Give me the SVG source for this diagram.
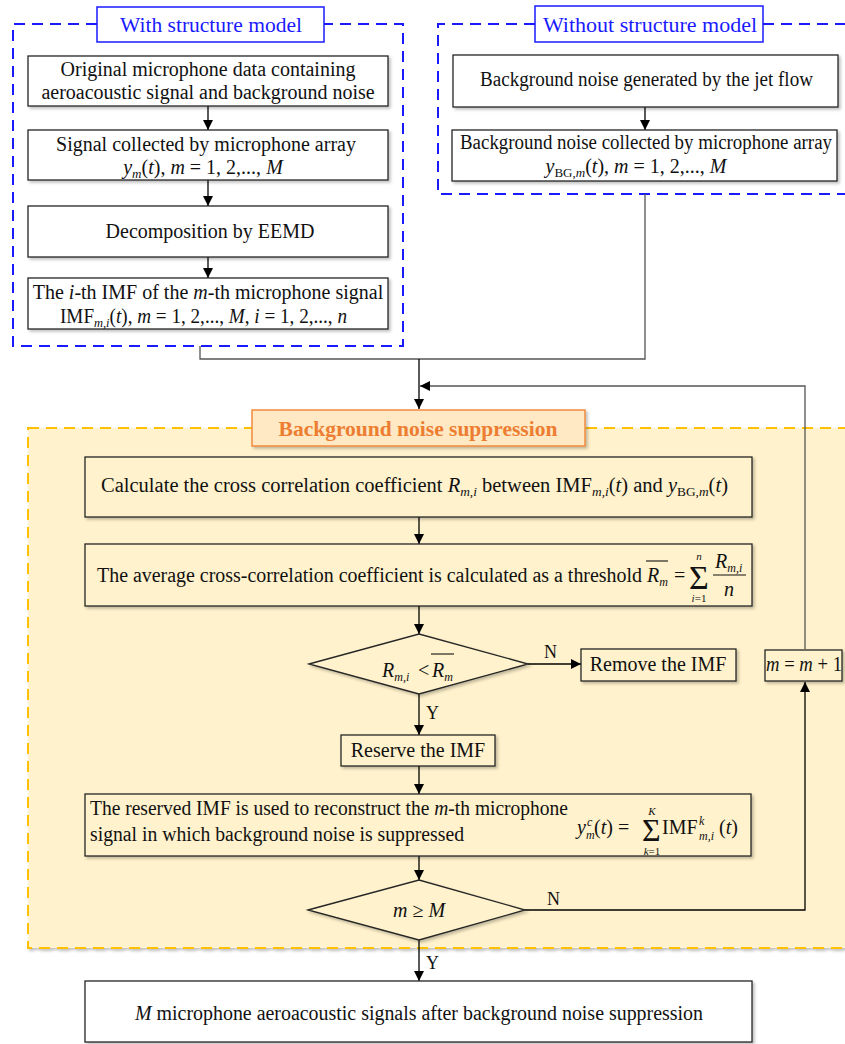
<svg xmlns="http://www.w3.org/2000/svg" width="845" height="1044" viewBox="0 0 845 1044">
<defs>
<filter id="sh" x="-5%" y="-10%" width="115%" height="130%">
<feDropShadow dx="2" dy="2" stdDeviation="1.5" flood-color="#000" flood-opacity="0.25"/>
</filter>
<marker id="ah" viewBox="0 0 10 10" refX="10" refY="5" markerWidth="10" markerHeight="10" markerUnits="userSpaceOnUse" orient="auto">
<path d="M0,0 L10,5 L0,10 z" fill="#000"/>
</marker>
<style>
.box{fill:#fff;stroke:#262626;stroke-width:1.3;filter:url(#sh)}
.ybox{fill:#fff2cc;stroke:#262626;stroke-width:1.3;filter:url(#sh)}
.t{font-family:"Liberation Serif","Times New Roman",serif;font-size:20px;fill:#111}
.m{text-anchor:middle}
.i{font-style:italic}
.conn{stroke:#000;stroke-width:1.3;fill:none}
.gconn{stroke:#555;stroke-width:1.3;fill:none}
.blue{stroke:#1a1aff;stroke-width:2;stroke-dasharray:11,7;fill:none}
</style>
</defs>

<g id="group-with">
<path class="blue" d="M97,24 H13 V346 H403 V24 H324"/>
<rect x="97" y="7" width="227" height="35" fill="#fff" stroke="#1a1aff" stroke-width="1.5"/>
<text class="t m" x="211" y="32" style="fill:#1a1aff;font-size:21.5px">With structure model</text>
</g>

<g id="group-without">
<path class="blue" d="M535,24 H438 V194 H860 M763,24 H860"/>
<rect x="535" y="6" width="228" height="36" fill="#fff" stroke="#1a1aff" stroke-width="1.5"/>
<text class="t m" x="650" y="32" style="fill:#1a1aff;font-size:22px">Without structure model</text>
</g>

<g id="group-suppression">
<rect x="28" y="428" width="840" height="520" fill="#fff2cc" stroke="#ffc000" stroke-width="2" stroke-dasharray="11,7" filter="url(#sh)"/>
<rect x="252" y="410" width="333" height="36" fill="#fee9c4" stroke="#f08a3c" stroke-width="1.5" filter="url(#sh)"/>
<text class="t m" x="418" y="436" style="fill:#ed7d31;font-weight:bold;font-size:21.5px">Background noise suppression</text>
</g>

<g id="connectors">
<line class="conn" x1="208" y1="106" x2="208" y2="130" marker-end="url(#ah)"/>
<line class="conn" x1="208" y1="180" x2="208" y2="206" marker-end="url(#ah)"/>
<line class="conn" x1="208" y1="257" x2="208" y2="278" marker-end="url(#ah)"/>
<line class="conn" x1="645" y1="107" x2="645" y2="130" marker-end="url(#ah)"/>
<path class="gconn" d="M200,346 V359 H645 V194"/>
<line class="conn" x1="419" y1="359" x2="419" y2="409" marker-end="url(#ah)"/>
<path class="gconn" d="M805,649 V386 H420"/>
<path d="M420,386 L430,381 L430,391 z" fill="#000"/>
<line class="conn" x1="419" y1="517" x2="419" y2="544" marker-end="url(#ah)"/>
<line class="conn" x1="419" y1="606" x2="419" y2="634" marker-end="url(#ah)"/>
<line class="conn" x1="528" y1="664" x2="581" y2="664" marker-end="url(#ah)"/>
<line class="conn" x1="419" y1="694" x2="419" y2="735" marker-end="url(#ah)"/>
<line class="conn" x1="419" y1="766" x2="419" y2="794" marker-end="url(#ah)"/>
<line class="conn" x1="419" y1="856" x2="419" y2="880" marker-end="url(#ah)"/>
<path class="conn" d="M525,910 H805 V682" marker-end="url(#ah)"/>
<line class="conn" x1="419" y1="940" x2="419" y2="981" marker-end="url(#ah)"/>
<text class="t" x="544" y="658" style="font-size:18px">N</text>
<text class="t" x="547" y="905" style="font-size:18px">N</text>
<text class="t" x="426" y="719" style="font-size:18px">Y</text>
<text class="t" x="426" y="969" style="font-size:18px">Y</text>
</g>

<g id="node-original">
<rect class="box" x="28" y="56" width="360" height="50"/>
<text class="t m" x="208" y="76">Original microphone data containing</text>
<text class="t m" x="208" y="99">aeroacoustic signal and background noise</text>
</g>

<g id="node-signal">
<rect class="box" x="28" y="130" width="360" height="50"/>
<text class="t m" x="206" y="151">Signal collected by microphone array</text>
<text class="t m" x="203" y="174"><tspan class="i">y</tspan><tspan class="i" font-size="13" dy="4">m</tspan><tspan dy="-4">(</tspan><tspan class="i">t</tspan>),  <tspan class="i">m</tspan> = 1, 2,..., <tspan class="i">M</tspan></text>
</g>

<g id="node-eemd">
<rect class="box" x="28" y="206" width="360" height="51"/>
<text class="t m" x="210" y="238">Decomposition by EEMD</text>
</g>

<g id="node-imf">
<rect class="box" x="28" y="278" width="360" height="51"/>
<text class="t m" x="208" y="299">The <tspan class="i">i</tspan>-th IMF of the <tspan class="i">m</tspan>-th microphone signal</text>
<text class="t" x="60" y="323" textLength="287" lengthAdjust="spacingAndGlyphs">IMF<tspan class="i" font-size="13" dy="4">m,i</tspan><tspan dy="-4">(</tspan><tspan class="i">t</tspan>),  <tspan class="i">m</tspan> = 1, 2,..., <tspan class="i">M</tspan>,  <tspan class="i">i</tspan> = 1, 2,..., <tspan class="i">n</tspan></text>
</g>

<g id="node-jet">
<rect class="box" x="453" y="55" width="385" height="52"/>
<text class="t" x="480" y="86" textLength="333" lengthAdjust="spacingAndGlyphs">Background noise generated by the jet flow</text>
</g>

<g id="node-bg">
<rect class="box" x="452" y="130" width="385" height="51"/>
<text class="t" x="460" y="149" textLength="372" lengthAdjust="spacingAndGlyphs">Background noise collected by microphone array</text>
<text class="t m" x="636" y="173"><tspan class="i">y</tspan><tspan font-size="13" dy="4">BG,</tspan><tspan class="i" font-size="13">m</tspan><tspan dy="-4">(</tspan><tspan class="i">t</tspan>),  <tspan class="i">m</tspan> = 1, 2,..., <tspan class="i">M</tspan></text>
</g>

<g id="node-calc">
<rect class="ybox" x="85" y="457" width="667" height="60"/>
<text class="t" x="101" y="492" textLength="627" lengthAdjust="spacingAndGlyphs">Calculate the cross correlation coefficient  <tspan class="i">R</tspan><tspan class="i" font-size="13" dy="4">m,i</tspan><tspan dy="-4">  between  IMF</tspan><tspan class="i" font-size="13" dy="4">m,i</tspan><tspan dy="-4">(</tspan><tspan class="i">t</tspan>)  and  <tspan class="i">y</tspan><tspan font-size="13" dy="4">BG,</tspan><tspan class="i" font-size="13">m</tspan><tspan dy="-4">(</tspan><tspan class="i">t</tspan>)</text>
</g>

<g id="node-avg">
<rect class="ybox" x="85" y="544" width="667" height="62"/>
<text class="t" x="97" y="582" textLength="545" lengthAdjust="spacingAndGlyphs">The average cross-correlation coefficient is calculated as a threshold</text>
<line x1="646" y1="561" x2="668" y2="561" stroke="#111" stroke-width="1.1"/>
<text class="t i" x="647" y="582">R<tspan font-size="12" dy="4">m</tspan></text>
<text class="t" x="674" y="582">=</text>
<text class="t" x="689" y="589" style="font-size:34px">Σ</text>
<text class="t i m" x="699" y="560" style="font-size:11px">n</text>
<text class="t m" x="699" y="602" style="font-size:11px"><tspan class="i">i</tspan>=1</text>
<text class="t i" x="715" y="568">R<tspan font-size="12" dy="4">m,i</tspan></text>
<line x1="713" y1="575" x2="746" y2="575" stroke="#111" stroke-width="1.1"/>
<text class="t i m" x="729" y="596">n</text>
</g>

<g id="node-compare">
<polygon points="309,664 419,634 528,664 419,694" fill="#fff2cc" stroke="#262626" stroke-width="1.3" filter="url(#sh)"/>
<text class="t i" x="382" y="677">R<tspan font-size="12" dy="4">m,i</tspan></text>
<text class="t" x="418" y="677">&lt;</text>
<line x1="431" y1="654" x2="454" y2="654" stroke="#111" stroke-width="1.1"/>
<text class="t i" x="432" y="677">R<tspan font-size="12" dy="4">m</tspan></text>
</g>

<g id="node-remove">
<rect class="ybox" x="581" y="649" width="155" height="32"/>
<text class="t m" x="658" y="671">Remove the IMF</text>
</g>

<g id="node-increment">
<rect class="ybox" x="765" y="650" width="77" height="31"/>
<text class="t" x="766" y="671" textLength="76" lengthAdjust="spacingAndGlyphs"><tspan class="i">m</tspan> = <tspan class="i">m</tspan> + 1</text>
</g>

<g id="node-reserve">
<rect class="ybox" x="341" y="735" width="154" height="31"/>
<text class="t m" x="418" y="757">Reserve the IMF</text>
</g>

<g id="node-reconstruct">
<rect class="ybox" x="85" y="794" width="666" height="62"/>
<text class="t" x="90" y="815" textLength="478" lengthAdjust="spacingAndGlyphs">The reserved IMF is used to reconstruct the <tspan class="i">m</tspan>-th microphone</text>
<text class="t" x="90" y="841" textLength="374" lengthAdjust="spacingAndGlyphs">signal in which background noise is suppressed</text>
<text class="t i" x="577" y="834">y</text>
<text class="t i" x="587" y="826" style="font-size:12px">c</text>
<text class="t i" x="586" y="839" style="font-size:12px">m</text>
<text class="t" x="594" y="834">(<tspan class="i">t</tspan>)</text>
<text class="t" x="618" y="834">=</text>
<text class="t" x="642" y="841" style="font-size:32px">Σ</text>
<text class="t i m" x="652" y="815" style="font-size:11px">K</text>
<text class="t m" x="652" y="855" style="font-size:11px"><tspan class="i">k</tspan>=1</text>
<text class="t" x="662" y="834">IMF</text>
<text class="t i" x="699" y="825" style="font-size:12px">k</text>
<text class="t i" x="699" y="840" style="font-size:12px">m,i</text>
<text class="t" x="719" y="834">(<tspan class="i">t</tspan>)</text>
</g>

<g id="node-check">
<polygon points="308,910 419,880 525,910 419,940" fill="#fff2cc" stroke="#262626" stroke-width="1.3" filter="url(#sh)"/>
<text class="t m" x="419" y="917"><tspan class="i">m</tspan> ≥  <tspan class="i">M</tspan></text>
</g>

<g id="node-final">
<rect class="box" x="85" y="981" width="667" height="61"/>
<text class="t" x="135" y="1020" textLength="568" lengthAdjust="spacingAndGlyphs"><tspan class="i">M</tspan> microphone aeroacoustic signals after background noise suppression</text>
</g>
</svg>
